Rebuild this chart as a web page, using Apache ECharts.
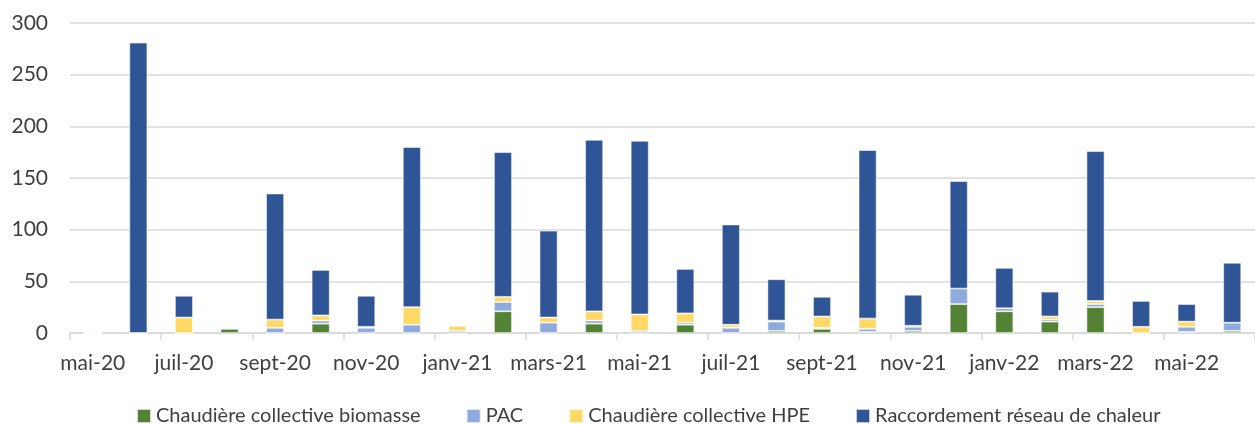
<!DOCTYPE html>
<html>
<head>
<meta charset="utf-8">
<script src="https://cdn.jsdelivr.net/npm/echarts@6/dist/echarts.min.js"></script>
<style>
  html, body { margin: 0; padding: 0; background: #fff; }
  #chart { width: 1255px; height: 425px; }
</style>
</head>
<body>
<div id="chart"></div>
<script>
  const months = [
    'mai-20', 'juin-20', 'juil-20', 'août-20', 'sept-20', 'oct-20', 'nov-20', 'déc-20',
    'janv-21', 'févr-21', 'mars-21', 'avr-21', 'mai-21', 'juin-21', 'juil-21', 'août-21',
    'sept-21', 'oct-21', 'nov-21', 'déc-21', 'janv-22', 'févr-22', 'mars-22', 'avr-22',
    'mai-22', 'juin-22'
  ];
  const biomasse = [0, 0, 0, 4, 0, 9, 0, 0, 0, 21, 0, 9, 0, 8, 0, 2, 4, 1, 2, 28, 21, 11, 25, 0, 1, 2];
  const pac = [0, 0, 0, 1, 5, 3, 5, 8, 2, 9, 10, 3, 2, 2, 5, 9, 1, 3, 4, 15, 3, 2, 3, 0, 5, 8];
  const hpe = [0, 0, 15, 0, 8, 5, 1, 17, 5, 5, 5, 9, 16, 9, 3, 1, 11, 10, 1, 0, 0, 3, 3, 6, 5, 0];
  const reseau = [0, 281, 21, 0, 122, 44, 30, 155, 0, 140, 84, 166, 168, 43, 97, 40, 19, 163, 30, 104, 39, 24, 145, 25, 17, 58];
  const yTicks = [0, 50, 100, 150, 200, 250, 300];

  const font = 'Lato, "Open Sans", sans-serif';
  const chart = echarts.init(document.getElementById('chart'));

  function stack(name, data, color) {
    return {
      name: name,
      type: 'bar',
      stack: 'total',
      barWidth: 18,
      itemStyle: {
        color: color,
        borderColor: 'rgba(255,255,255,0.7)',
        borderWidth: 0.8
      },
      data: data
    };
  }

  const options = {
    animation: false,
    textStyle: { fontFamily: font },
    grid: {
      left: 70,
      top: 23,
      width: 1196,
      height: 310
    },
    legend: {
      left: 131,
      top: 401,
      itemWidth: 14,
      itemHeight: 14,
      itemGap: 45,
      icon: 'rect',
      textStyle: {
        fontFamily: font,
        fontSize: 20,
        color: '#404040'
      },
      data: [
        'Chaudière collective biomasse',
        'PAC',
        'Chaudière collective HPE',
        'Raccordement réseau de chaleur'
      ]
    },
    xAxis: {
      type: 'category',
      data: months,
      boundaryGap: true,
      axisLine: {
        lineStyle: { color: '#d9d9d9', width: 1.5 }
      },
      axisTick: {
        show: true,
        interval: 1,
        length: 7,
        lineStyle: { color: '#d9d9d9', width: 1.5 }
      },
      axisLabel: {
        interval: 1,
        margin: 20,
        fontSize: 21,
        color: '#404040',
        fontFamily: font
      }
    },
    yAxis: {
      type: 'value',
      min: yTicks[0],
      max: yTicks[yTicks.length - 1],
      interval: 50,
      axisLine: { show: false },
      axisTick: { show: false },
      axisLabel: {
        margin: 22,
        fontSize: 21,
        color: '#404040',
        fontFamily: font
      },
      splitLine: {
        lineStyle: { color: '#d9d9d9', width: 1.5 }
      }
    },
    series: [
      stack('Chaudière collective biomasse', biomasse, '#548235'),
      stack('PAC', pac, '#8faadc'),
      stack('Chaudière collective HPE', hpe, '#ffd966'),
      stack('Raccordement réseau de chaleur', reseau, '#2f5597')
    ]
  };
  chart.setOption(options);
</script>
</body>
</html>
